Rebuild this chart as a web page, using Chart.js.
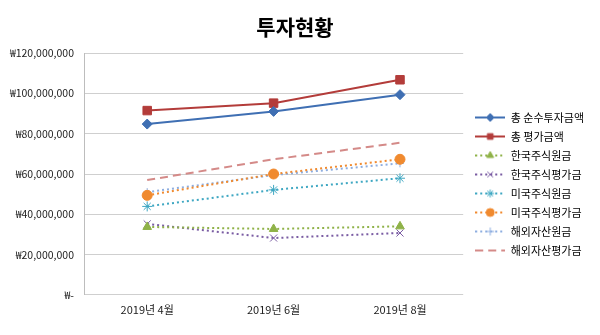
<!DOCTYPE html>
<html>
<head>
<meta charset="utf-8">
<script src="https://cdn.jsdelivr.net/npm/chart.js@4.4.1/dist/chart.umd.min.js"></script>
<style>
html,body{margin:0;padding:0;background:#fff}
#wrap{width:600px;height:335px;position:relative}
</style>
</head>
<body>
<div id="wrap"><canvas id="chart"></canvas></div>
<script>
// 투자현황 — 월별 투자 / 평가 금액
const months = ['2019년 4월', '2019년 6월', '2019년 8월'];
const totalInvest = [84800000, 91100000, 99400000];   // 총 순수투자금액
const totalValue = [91500000, 95200000, 106800000];   // 총 평가금액
const krPrincipal = [33700000, 32700000, 34000000];   // 한국주식원금
const krValue = [35200000, 28200000, 30700000];       // 한국주식평가금
const usPrincipal = [43900000, 52100000, 57900000];   // 미국주식원금
const usValue = [49400000, 60000000, 67300000];       // 미국주식평가금
const fxPrincipal = [51000000, 59500000, 65300000];   // 해외자산원금
const fxValue = [57000000, 67300000, 75500000];       // 해외자산평가금
const yMin = 0, yMax = 120000000, yStep = 20000000;

const FONT = "'Noto Sans CJK KR', 'Noto Sans', sans-serif";
const won = v => v === 0 ? '₩-' : '₩' + v.toLocaleString('en-US');

const mkDs = (label, data, color, style, radius, dash, width) => ({
    label, data,
    borderColor: color, backgroundColor: color,
    borderWidth: width || 2, borderDash: dash || [],
    pointStyle: style || false, pointRadius: style ? radius : 0,
    pointBorderWidth: 1, pointBorderColor: color, pointBackgroundColor: color,
    tension: 0, fill: false
});

const datasets = [
    mkDs('총 순수투자금액', totalInvest, '#3f6fb3', 'rectRot', 5),
    mkDs('총 평가금액', totalValue, '#b33c3a', 'rect', 6),
    mkDs('한국주식원금', krPrincipal, '#8fb248', 'triangle', 5, [2, 3]),
    mkDs('한국주식평가금', krValue, '#7a5ca3', 'crossRot', 5, [2, 3]),
    mkDs('미국주식원금', usPrincipal, '#3ea7c2', 'star', 5, [2, 3]),
    mkDs('미국주식평가금', usValue, '#f08a2f', 'circle', 5, [2, 3]),
    mkDs('해외자산원금', fxPrincipal, '#8eaee0', 'cross', 4, [2, 3]),
    mkDs('해외자산평가금', fxValue, '#d48a88', false, 0, [8, 5])
];

// legend swatch: line with marker in the middle, like the spreadsheet legend
function swatch(ds) {
    const c = document.createElement('canvas');
    c.width = 30; c.height = 12;
    const ctx = c.getContext('2d');
    ctx.strokeStyle = ds.borderColor;
    ctx.fillStyle = ds.borderColor;
    ctx.lineWidth = 2;
    ctx.setLineDash(ds.borderDash);
    ctx.beginPath(); ctx.moveTo(0, 6); ctx.lineTo(30, 6); ctx.stroke();
    ctx.setLineDash([]);
    if (ds.pointStyle) {
        ctx.lineWidth = 1;
        Chart.helpers.drawPoint(ctx, {pointStyle: ds.pointStyle, radius: Math.min(ds.pointRadius, 4), borderWidth: 1, rotation: 0}, 15, 6);
    }
    return c;
}

// nudge the legend block to where the spreadsheet puts it
const legendShift = {
    id: 'legendShift',
    afterLayout(chart) {
        const l = chart.legend;
        l.top += 20; l.bottom += 20;
        l.left += 4; l.right += 4;
    }
};

new Chart(document.getElementById('chart'), {
    type: 'line',
    data: {labels: months, datasets},
    plugins: [legendShift],
    options: {
        responsive: true, maintainAspectRatio: false, animation: false,
        layout: {padding: {left: 0, right: 10, top: 4, bottom: 11}},
        plugins: {
            title: {display: true, text: '투자현황', color: '#000', font: {family: FONT, size: 21, weight: 'bold'}, padding: {top: 10, bottom: 14}},
            legend: {
                position: 'right',
                labels: {
                    usePointStyle: true, pointStyleWidth: 30, padding: 8, color: '#222',
                    font: {family: FONT, size: 11},
                    generateLabels: chart => chart.data.datasets.map((ds, i) => ({
                        text: ds.label, pointStyle: swatch(ds), datasetIndex: i,
                        fillStyle: ds.borderColor, strokeStyle: ds.borderColor, lineWidth: 0, hidden: false
                    }))
                }
            },
            tooltip: {enabled: false}
        },
        scales: {
            x: {
                offset: true,
                grid: {display: false, drawTicks: false},
                border: {display: false},
                ticks: {color: '#222', font: {family: FONT, size: 11}, padding: 8}
            },
            y: {
                min: yMin, max: yMax,
                afterFit: s => { s.width = 84; },
                grid: {color: '#cfcfcf', lineWidth: 1, drawTicks: false},
                border: {display: true, color: '#bdbdbd'},
                ticks: {stepSize: yStep, color: '#222', font: {family: FONT, size: 10.5}, padding: 10, callback: won}
            }
        }
    }
});
</script>
</body>
</html>
